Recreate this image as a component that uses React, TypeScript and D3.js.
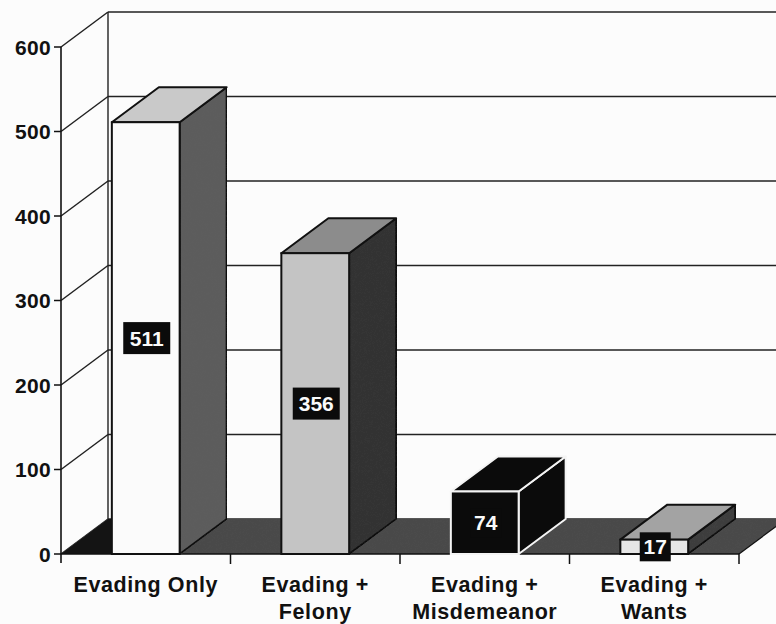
import React, { useEffect } from "react";
import * as d3 from "d3";

const categories: string[][] = [
  ["Evading Only"],
  ["Evading +", "Felony"],
  ["Evading +", "Misdemeanor"],
  ["Evading +", "Wants"],
];
const values: number[] = [511, 356, 74, 17];
const yTicks: number[] = [0, 100, 200, 300, 400, 500, 600];
const frontColors = ["#fbfbfb", "#c4c4c4", "#0b0b0b", "#e6e6e6"];
const topColors = ["#c9c9c9", "#8c8c8c", "#0b0b0b", "#a3a3a3"];
const sideColors = ["#5c5c5c", "#333333", "#0b0b0b", "#3e3e3e"];
const edgeColors = ["#111", "#111", "#f4f4f4", "#111"];

const W = 776;
const H = 624;
const DX = 47;
const DY = -35;
const FONT = "'Liberation Sans', Arial, sans-serif";

export default function App() {
  useEffect(() => {
    document.body.style.margin = "0";
  }, []);

  const y = d3.scaleLinear().domain([0, 600]).range([554, 47]);
  const keys = categories.map((c) => c.join(" "));
  const x = d3.scaleBand<string>().domain(keys).range([61, 739]).padding(0);
  const bw = x.bandwidth() * 0.4;
  const y0 = y(0);
  const yTop = y(600);
  const xL = x.range()[0];
  const xR = x.range()[1];

  const pts = (p: [number, number][]) => p.map((q) => q.join(",")).join(" ");

  return (
    <svg width={W} height={H} style={{ display: "block", background: "#fcfcfc" }} fontFamily={FONT}>
      <defs>
        <filter id="grain" x="0" y="0" width="100%" height="100%">
          <feTurbulence type="fractalNoise" baseFrequency="0.9" numOctaves="2" seed="3" result="n" />
          <feColorMatrix in="n" type="matrix"
            values="0 0 0 0 0.5  0 0 0 0 0.5  0 0 0 0 0.5  0 0 0 0.35 0" result="g" />
          <feComposite in="g" in2="SourceGraphic" operator="in" result="gc" />
          <feBlend in="SourceGraphic" in2="gc" mode="overlay" />
        </filter>
      </defs>
      <rect width={W} height={H} fill="#fcfcfc" />

      {/* back wall gridlines */}
      {yTicks.map((t) => (
        <line key={"g" + t} x1={xL + DX} x2={W} y1={y(t) + DY} y2={y(t) + DY} stroke="#222" strokeWidth={1.6} />
      ))}
      {/* back wall left edge */}
      <line x1={xL + DX} x2={xL + DX} y1={yTop + DY} y2={y0 + DY} stroke="#222" strokeWidth={1.4} />
      {/* side wall diagonals */}
      {yTicks.map((t) => (
        <line key={"d" + t} x1={xL} y1={y(t)} x2={xL + DX} y2={y(t) + DY} stroke="#222" strokeWidth={1.5} />
      ))}

      {/* floor */}
      <polygon
        points={pts([[xL, y0], [xR, y0], [xR + DX, y0 + DY], [xL + DX, y0 + DY]])}
        fill="#4a4a4a"
        filter="url(#grain)"
      />
      <polygon
        points={pts([[xL, y0], [xL + DX + 4, y0], [xL + DX + 4, y0 + DY], [xL + DX, y0 + DY]])}
        fill="#141414"
      />
      <line x1={xL} x2={xR} y1={y0} y2={y0} stroke="#111" strokeWidth={1.5} />
      <line x1={xR} y1={y0} x2={xR + DX} y2={y0 + DY} stroke="#111" strokeWidth={1.2} />

      {/* y axis */}
      <line x1={xL} x2={xL} y1={yTop} y2={y0 + 9} stroke="#111" strokeWidth={1.6} />
      {yTicks.map((t) => (
        <g key={"t" + t}>
          <line x1={xL - 7} x2={xL} y1={y(t)} y2={y(t)} stroke="#111" strokeWidth={1.5} />
          <text x={xL - 10} y={y(t)} dy="0.36em" textAnchor="end" fontSize={21} fontWeight="bold" fill="#111"
            letterSpacing={0.3}>
            {t}
          </text>
        </g>
      ))}

      {/* x ticks */}
      {keys.map((k, i) => (
        <line key={"xt" + i} x1={(x(k) as number) + x.bandwidth()} x2={(x(k) as number) + x.bandwidth()}
          y1={y0} y2={y0 + 10} stroke="#111" strokeWidth={1.5} />
      ))}

      {/* bars */}
      {values.map((v, i) => {
        const cx = (x(keys[i]) as number) + x.bandwidth() / 2;
        const x0 = cx - bw / 2;
        const x1 = cx + bw / 2;
        const yt = y(v);
        const sw = 2;
        return (
          <g key={"b" + i}>
            <polygon
              points={pts([[x1, y0], [x1 + DX, y0 + DY], [x1 + DX, yt + DY], [x1, yt]])}
              fill={sideColors[i]}
              stroke={edgeColors[i]}
              strokeWidth={sw}
              strokeLinejoin="round"
              filter={i === 2 ? undefined : "url(#grain)"}
            />
            <polygon
              points={pts([[x0, yt], [x1, yt], [x1 + DX, yt + DY], [x0 + DX, yt + DY]])}
              fill={topColors[i]}
              stroke={edgeColors[i]}
              strokeWidth={sw}
              strokeLinejoin="round"
            />
            <rect x={x0} y={yt} width={x1 - x0} height={y0 - yt} fill={frontColors[i]}
              stroke={edgeColors[i]} strokeWidth={sw} />
          </g>
        );
      })}

      {/* data labels */}
      {values.map((v, i) => {
        const cx = (x(keys[i]) as number) + x.bandwidth() / 2 + 1;
        const cy = y(v / 2);
        const s = String(v);
        const w = s.length >= 3 ? 47 : 31;
        const h = s.length >= 3 ? 32 : 29;
        return (
          <g key={"l" + i}>
            <rect x={cx - w / 2} y={cy - h / 2} width={w} height={h} fill="#0b0b0b" />
            <text x={cx} y={cy} dy="0.36em" textAnchor="middle" fontSize={21} fontWeight="bold" fill="#fafafa">
              {s}
            </text>
          </g>
        );
      })}

      {/* x labels */}
      {categories.map((lines, i) => {
        const cx = (x(keys[i]) as number) + x.bandwidth() / 2;
        return (
          <text key={"c" + i} x={cx} y={592} textAnchor="middle" fontSize={21.5} fontWeight="bold" fill="#111"
            letterSpacing={0.6}>
            {lines.map((ln, j) => (
              <tspan key={j} x={cx} dy={j === 0 ? 0 : 27}>
                {ln}
              </tspan>
            ))}
          </text>
        );
      })}
    </svg>
  );
}
